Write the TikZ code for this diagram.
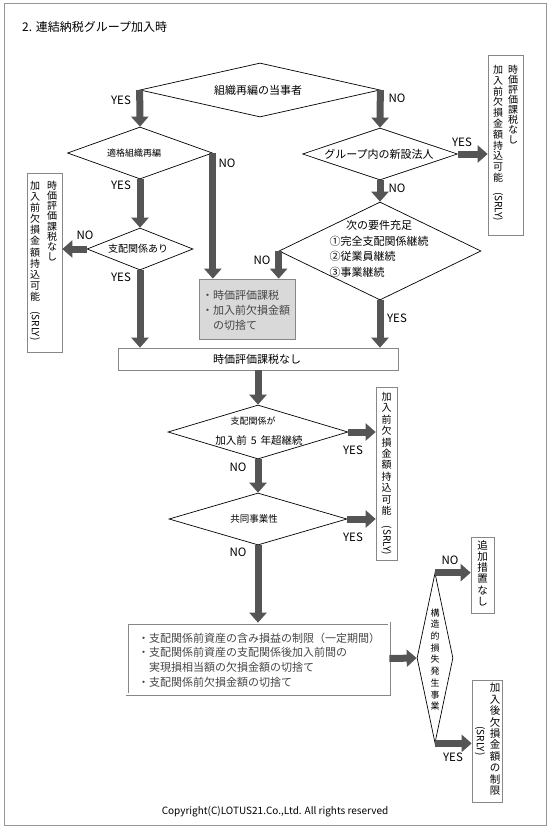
\documentclass[tikz,border=0pt]{standalone}
\usepackage{fontspec}
\setmainfont{Noto Sans CJK JP}
\usetikzlibrary{shapes.geometric,arrows.meta}
\definecolor{arrowgray}{RGB}{85,85,85}
\definecolor{boxgray}{RGB}{135,135,135}
\definecolor{fillgray}{RGB}{217,217,217}
\definecolor{txtgray}{RGB}{70,70,70}
\definecolor{framegray}{RGB}{150,150,150}
\newcommand{\fsz}[2]{\fontsize{#1}{#2}\selectfont}
\begin{document}
\begin{tikzpicture}[x=1pt,y=-1pt,
  dia/.style={diamond, draw=black, line width=0.7pt, inner sep=0pt},
  box/.style={rectangle, draw=boxgray, line width=0.7pt, inner sep=0pt},
  flow/.style={line width=7pt, draw=arrowgray, -{Triangle[length=10pt,width=17pt]}},
  lbl/.style={font=\fsz{11.5}{11.5}, inner sep=0pt},
  vcol/.style={align=center, inner sep=0pt},
  txt/.style={inner sep=0pt}
]
\useasboundingbox (0,0) rectangle (550,830);
\draw[framegray, line width=0.8pt] (4,3.5) rectangle (546,825.5);

% title
\node[txt, anchor=west, font=\fsz{12}{12}] (title) at (22,27) {2. 連結納税グループ加入時};

% diamonds
\node[dia, minimum width=240pt, minimum height=54pt] (d1) at (260,90) {};
\node[dia, minimum width=145pt, minimum height=52pt] (d2) at (140,153) {};
\node[dia, minimum width=155pt, minimum height=52pt] (d3) at (380,154) {};
\node[dia, minimum width=106pt, minimum height=42pt] (d4) at (140,249) {};
\node[dia, minimum width=202pt, minimum height=98pt] (d5) at (380,251) {};
\node[dia, minimum width=180pt, minimum height=54pt] (d6) at (258,432) {};
\node[dia, minimum width=178pt, minimum height=52pt] (d7) at (258,519) {};
\node[dia, minimum width=36pt, minimum height=170pt] (d8) at (435,658) {};

% boxes
\node[box, minimum width=280pt, minimum height=22pt] (tbox) at (258,359) {};
\node[box, fill=fillgray, minimum width=96pt, minimum height=60pt] (gbox) at (247,309) {};
\node[box, minimum width=35pt, minimum height=179pt] (lbox) at (44.5,262.5) {};
\node[box, minimum width=35pt, minimum height=180pt] (rbox1) at (505.5,145) {};
\node[box, minimum width=21pt, minimum height=173pt] (rbox2) at (386.5,473.5) {};
\node[box, double=white, double distance=1.6pt, minimum width=262pt, minimum height=71pt] (bbox) at (258,658.5) {};
\node[box, minimum width=23pt, minimum height=76pt] (nbox) at (482.5,575) {};
\node[box, minimum width=30pt, minimum height=122pt] (sbox) at (487,741) {};

% diamond texts
\node[txt, font=\fsz{11}{11}] (t1) at (258,90) {組織再編の当事者};
\node[txt, font=\fsz{9}{9}] (t2) at (134,153) {適格組織再編};
\node[txt, font=\fsz{11}{11}] (t3) at (379,154) {グループ内の新設法人};
\node[txt, font=\fsz{10}{10}] (t4) at (138,249) {支配関係あり};
\node[txt, align=left, font=\fsz{11}{15.5}] (t5) at (379,249)
  {\hspace*{16.5pt}次の要件充足\\①完全支配関係継続\\②従業員継続\\③事業継続};
\node[txt, font=\fsz{9}{9}] (t6a) at (253,421) {支配関係が};
\node[txt, font=\fsz{10.5}{10.5}] (t6b) at (259,440) {加入前\hspace{4pt}5\hspace{4pt}年超継続};
\node[txt, font=\fsz{9.5}{9.5}] (t7) at (254,519) {共同事業性};
\node[vcol, font=\fsz{9}{11.7}] (t8) at (435,659.5) {構\\造\\的\\損\\失\\発\\生\\事\\業};

% box texts
\node[txt, font=\fsz{11}{11}] (tt) at (257,359) {時価評価課税なし};
\node[txt, anchor=west, align=left, text=txtgray, font=\fsz{11}{15}] (gt) at (202,310)
  {・時価評価課税\\・加入前欠損金額\\　の切捨て};
\node[txt, anchor=west, align=left, text=txtgray, font=\fsz{11}{14.7}] (bt) at (138,660)
  {・支配関係前資産の含み損益の制限（一定期間）\\・支配関係前資産の支配関係後加入前間の\\　実現損相当額の欠損金額の切捨て\\・支配関係前欠損金額の切捨て};

% vertical box texts
\node[vcol, anchor=north, font=\fsz{10}{10.1}] (lR) at (52,181) {時\\価\\評\\価\\課\\税\\な\\し};
\node[vcol, anchor=north, font=\fsz{10}{11.1}] (lL) at (35,181) {加\\入\\前\\欠\\損\\金\\額\\持\\込\\可\\能\\\rotatebox{-90}{(SRLY)}};
\node[vcol, anchor=north, font=\fsz{10}{10}] (r1R) at (513,65) {時\\価\\評\\価\\課\\税\\な\\し};
\node[vcol, anchor=north, font=\fsz{10}{10.8}] (r1L) at (498,65) {加\\入\\前\\欠\\損\\金\\額\\持\\込\\可\\能\\\rotatebox{-90}{(SRLY)}};
\node[vcol, anchor=north, font=\fsz{10}{11.4}] (r2) at (386.5,392) {加\\入\\前\\欠\\損\\金\\額\\持\\込\\可\\能\\\rotatebox{-90}{(SRLY)}};
\node[vcol, anchor=north, font=\fsz{10.5}{11.3}] (nt) at (482.5,540) {追\\加\\措\\置\\な\\し};
\node[vcol, anchor=north, font=\fsz{10.5}{11.4}] (sR) at (495,683) {加\\入\\後\\欠\\損\\金\\額\\の\\制\\限};
\node[txt, font=\fsz{10}{10}] (sL) at (480,741) {\rotatebox{-90}{(SRLY)}};

% arrows
\draw[flow] (d1.west) -- (d2.north);
\draw[flow] (d1.east) -- (d3.north);
\draw[flow] (d2.east) -- (d2.east |- gbox.north);
\draw[flow] (d2.south) -- (d4.north);
\draw[flow] (d4.west) -- (d4.west -| lbox.east);
\draw[flow] (d4.south) -- (d4.south |- tbox.north);
\draw[flow] (d3.east) -- (d3.east -| rbox1.west);
\draw[flow] (d3.south) -- (d5.north);
\draw[flow] (d5.west) -- (d5.west |- gbox.north);
\draw[flow] (d5.south) -- (d5.south |- tbox.north);
\draw[flow] (tbox.south) -- (d6.north);
\draw[flow] (d6.east) -- (d6.east -| rbox2.west);
\draw[flow] (d6.south) -- (d7.north);
\draw[flow] (d7.east) -- (d7.east -| rbox2.west);
\draw[flow] (d7.south) -- (bbox.north);
\draw[flow] (bbox.east) -- (d8.west);
\draw[flow] (d8.north) -- (d8.north -| nbox.west);
\draw[flow] (d8.south) -- (d8.south -| sbox.west);

% labels
\node[lbl] (l1) at (121,100) {YES};
\node[lbl] (l2) at (397,98) {NO};
\node[lbl] (l3) at (121,185) {YES};
\node[lbl] (l4) at (227,163) {NO};
\node[lbl] (l5) at (462,142) {YES};
\node[lbl] (l6) at (397,188) {NO};
\node[lbl] (l7) at (85,235) {NO};
\node[lbl] (l8) at (121,277) {YES};
\node[lbl] (l9) at (262,260) {NO};
\node[lbl] (l10) at (397,318) {YES};
\node[lbl] (l11) at (353,450) {YES};
\node[lbl] (l12) at (238,467) {NO};
\node[lbl] (l13) at (353,537) {YES};
\node[lbl] (l14) at (238,552) {NO};
\node[lbl] (l15) at (450,560) {NO};
\node[lbl] (l16) at (453,757) {YES};

% copyright
\node[txt, font=\fsz{10}{10}] (copy) at (275,812) {Copyright(C)LOTUS21.Co.,Ltd. All rights reserved};
\end{tikzpicture}
\end{document}
